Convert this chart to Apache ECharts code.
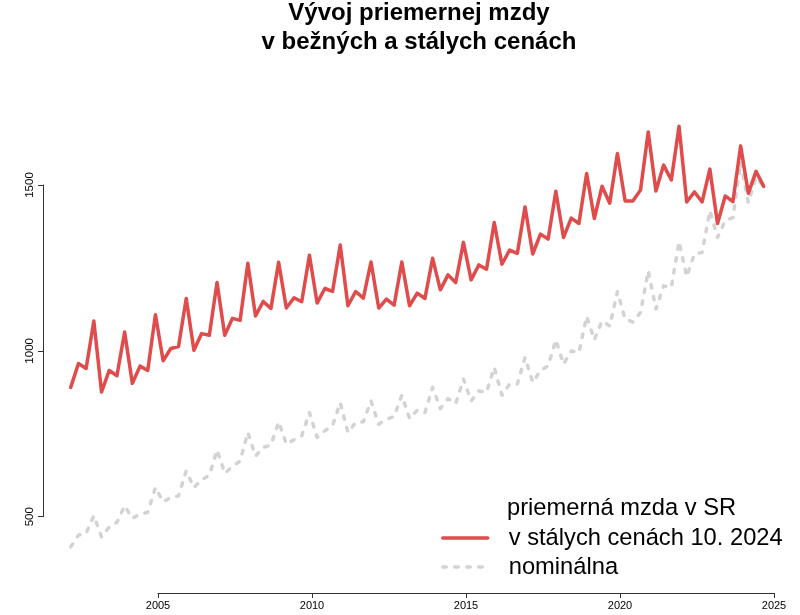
<!DOCTYPE html>
<html>
<head>
<meta charset="utf-8">
<script src="https://cdn.jsdelivr.net/npm/echarts@6/dist/echarts.min.js"></script>
<style>html,body{margin:0;padding:0;background:#fff}#c{width:800px;height:615px}</style>
</head>
<body>
<div id="c"></div>
<script>
// quarters 2002Q1 .. 2024Q3
const startYear = 2002;
const quarterCount = 91;
const quarters = [];
for (let i = 0; i < quarterCount; i++) quarters.push((startYear + Math.floor(i / 4)) + 'Q' + (i % 4 + 1));

const realWage = [890,962,947,1090, 876,941,925,1057, 902,954,941,1109, 970,1007,1013,1158,
  1002,1052,1047,1206, 1047,1098,1092,1264, 1105,1149,1128,1267, 1129,1160,1148,1288,
  1144,1188,1179,1319, 1136,1179,1159,1268, 1129,1156,1138,1268, 1136,1174,1158,1279,
  1184,1229,1206,1327, 1214,1259,1246,1387, 1261,1304,1294,1434, 1292,1352,1337,1481,
  1342,1400,1384,1535, 1399,1496,1445,1595, 1452,1452,1485,1660, 1482,1560,1515,1677,
  1449,1479,1449,1548, 1384,1467,1450,1618, 1475,1541,1496];

const nominalWage = [409,444,450,503, 439,469,483,533, 495,508,513,588, 545,558,563,638,
  588,611,625,701, 631,651,668,754, 683,709,716,786, 719,732,744,814,
  739,759,774,844, 754,784,786,849, 779,794,802,866, 796,821,814,890,
  826,856,841,915, 849,879,875,950, 866,900,900,980, 905,940,955,1033,
  960,1000,995,1104, 1033,1090,1075,1178, 1096,1087,1116,1241, 1126,1196,1191,1329,
  1224,1292,1297,1422, 1342,1392,1402,1568, 1447,1523,1496];

const xTicks = [2005, 2010, 2015, 2020, 2025];
const yTicks = [500, 1000, 1500];

const seriesNames = ['v stálych cenách 10. 2024', 'nominálna'];
const legendTitle = 'priemerná mzda v SR';
const titleText = 'Vývoj priemernej mzdy\nv bežných a stálych cenách';

// quarter label -> time (middle month of quarter style, as in the source)
function qTime(q) { const y = +q.slice(0, 4), n = +q.slice(5); return y + (3 * n - 1) / 12; }

const realData = quarters.map((q, i) => [qTime(q), realWage[i]]);
const nomData = quarters.map((q, i) => [qTime(q), nominalWage[i]]);

// layout
const tickL = 158, tickR = 774;
const pxPerYear = (tickR - tickL) / (xTicks[xTicks.length - 1] - xTicks[0]);
const plotL = 43, plotW = 748;
const xMin = xTicks[0] - (tickL - plotL) / pxPerYear;
const xMax = xMin + plotW / pxPerYear;
const plotTop = 85.5, plotBottom = 593;
const yMin = 270, yMax = 1800;
const pxPerUnit = (plotBottom - plotTop) / (yMax - yMin);
const yTickTop = plotBottom - (yTicks[yTicks.length - 1] - yMin) * pxPerUnit;
const yTickBot = plotBottom - (yTicks[0] - yMin) * pxPerUnit;

const FONT = 'Liberation Sans';
const axisCol = '#333';

const chart = echarts.init(document.getElementById('c'), null, {renderer: 'canvas'});
chart.setOption({
  animation: false,
  backgroundColor: '#fff',
  textStyle: {fontFamily: FONT},
  title: [
    {text: titleText, left: 419, top: -1, textAlign: 'center', padding: 0,
     textStyle: {fontFamily: FONT, fontSize: 24, fontWeight: 'bold', color: '#000', lineHeight: 29}},
    {text: legendTitle, left: 507, top: 494.5, padding: 0,
     textStyle: {fontFamily: FONT, fontSize: 23.7, fontWeight: 'normal', color: '#000', lineHeight: 27}}
  ],
  legend: {
    data: seriesNames, orient: 'vertical', left: 441, top: 524.5, padding: 0,
    itemWidth: 45, itemHeight: 27, itemGap: 2,
    itemStyle: {opacity: 0},
    lineStyle: {width: 3.5},
    textStyle: {fontFamily: FONT, fontSize: 23.7, color: '#000', lineHeight: 27, padding: [0, 0, 0, 16]}
  },
  grid: [
    {left: plotL, width: plotW, top: plotTop, height: plotBottom - plotTop},
    {left: tickL, width: tickR - tickL, top: plotTop, height: plotBottom - plotTop},
    {left: plotL, width: plotW, top: yTickTop, height: yTickBot - yTickTop}
  ],
  xAxis: [
    {type: 'value', gridIndex: 0, min: xMin, max: xMax, show: false},
    {type: 'value', gridIndex: 1, min: xTicks[0], max: xTicks[xTicks.length - 1], interval: 5,
     axisLine: {show: true, lineStyle: {color: axisCol, width: 1}},
     axisTick: {show: true, length: 5, lineStyle: {color: axisCol}},
     axisLabel: {show: true, margin: 7, fontFamily: FONT, fontSize: 11, color: '#000',
                 formatter: v => String(v)},
     splitLine: {show: false}},
    {type: 'value', gridIndex: 2, min: 0, max: 1, show: false}
  ],
  yAxis: [
    {type: 'value', gridIndex: 0, min: yMin, max: yMax, show: false},
    {type: 'value', gridIndex: 1, min: 0, max: 1, show: false},
    {type: 'value', gridIndex: 2, min: yTicks[0], max: yTicks[yTicks.length - 1], interval: 500,
     axisLine: {show: true, lineStyle: {color: axisCol, width: 1}},
     axisTick: {show: true, length: 5, lineStyle: {color: axisCol}},
     axisLabel: {show: true, rotate: 90, margin: 7, fontFamily: FONT, fontSize: 11.5, color: '#000',
                 formatter: v => String(v)},
     splitLine: {show: false}}
  ],
  series: [
    {name: seriesNames[1], type: 'line', xAxisIndex: 0, yAxisIndex: 0, data: nomData,
     symbol: 'none', color: '#D3D3D3',
     lineStyle: {color: '#D3D3D3', width: 3.5, type: [3.5, 8.5], cap: 'round', join: 'round'}},
    {name: seriesNames[0], type: 'line', xAxisIndex: 0, yAxisIndex: 0, data: realData,
     symbol: 'none', color: '#E04B4B',
     lineStyle: {color: '#E04B4B', width: 3.5, cap: 'round', join: 'round'}}
  ]
});
</script>
</body>
</html>
